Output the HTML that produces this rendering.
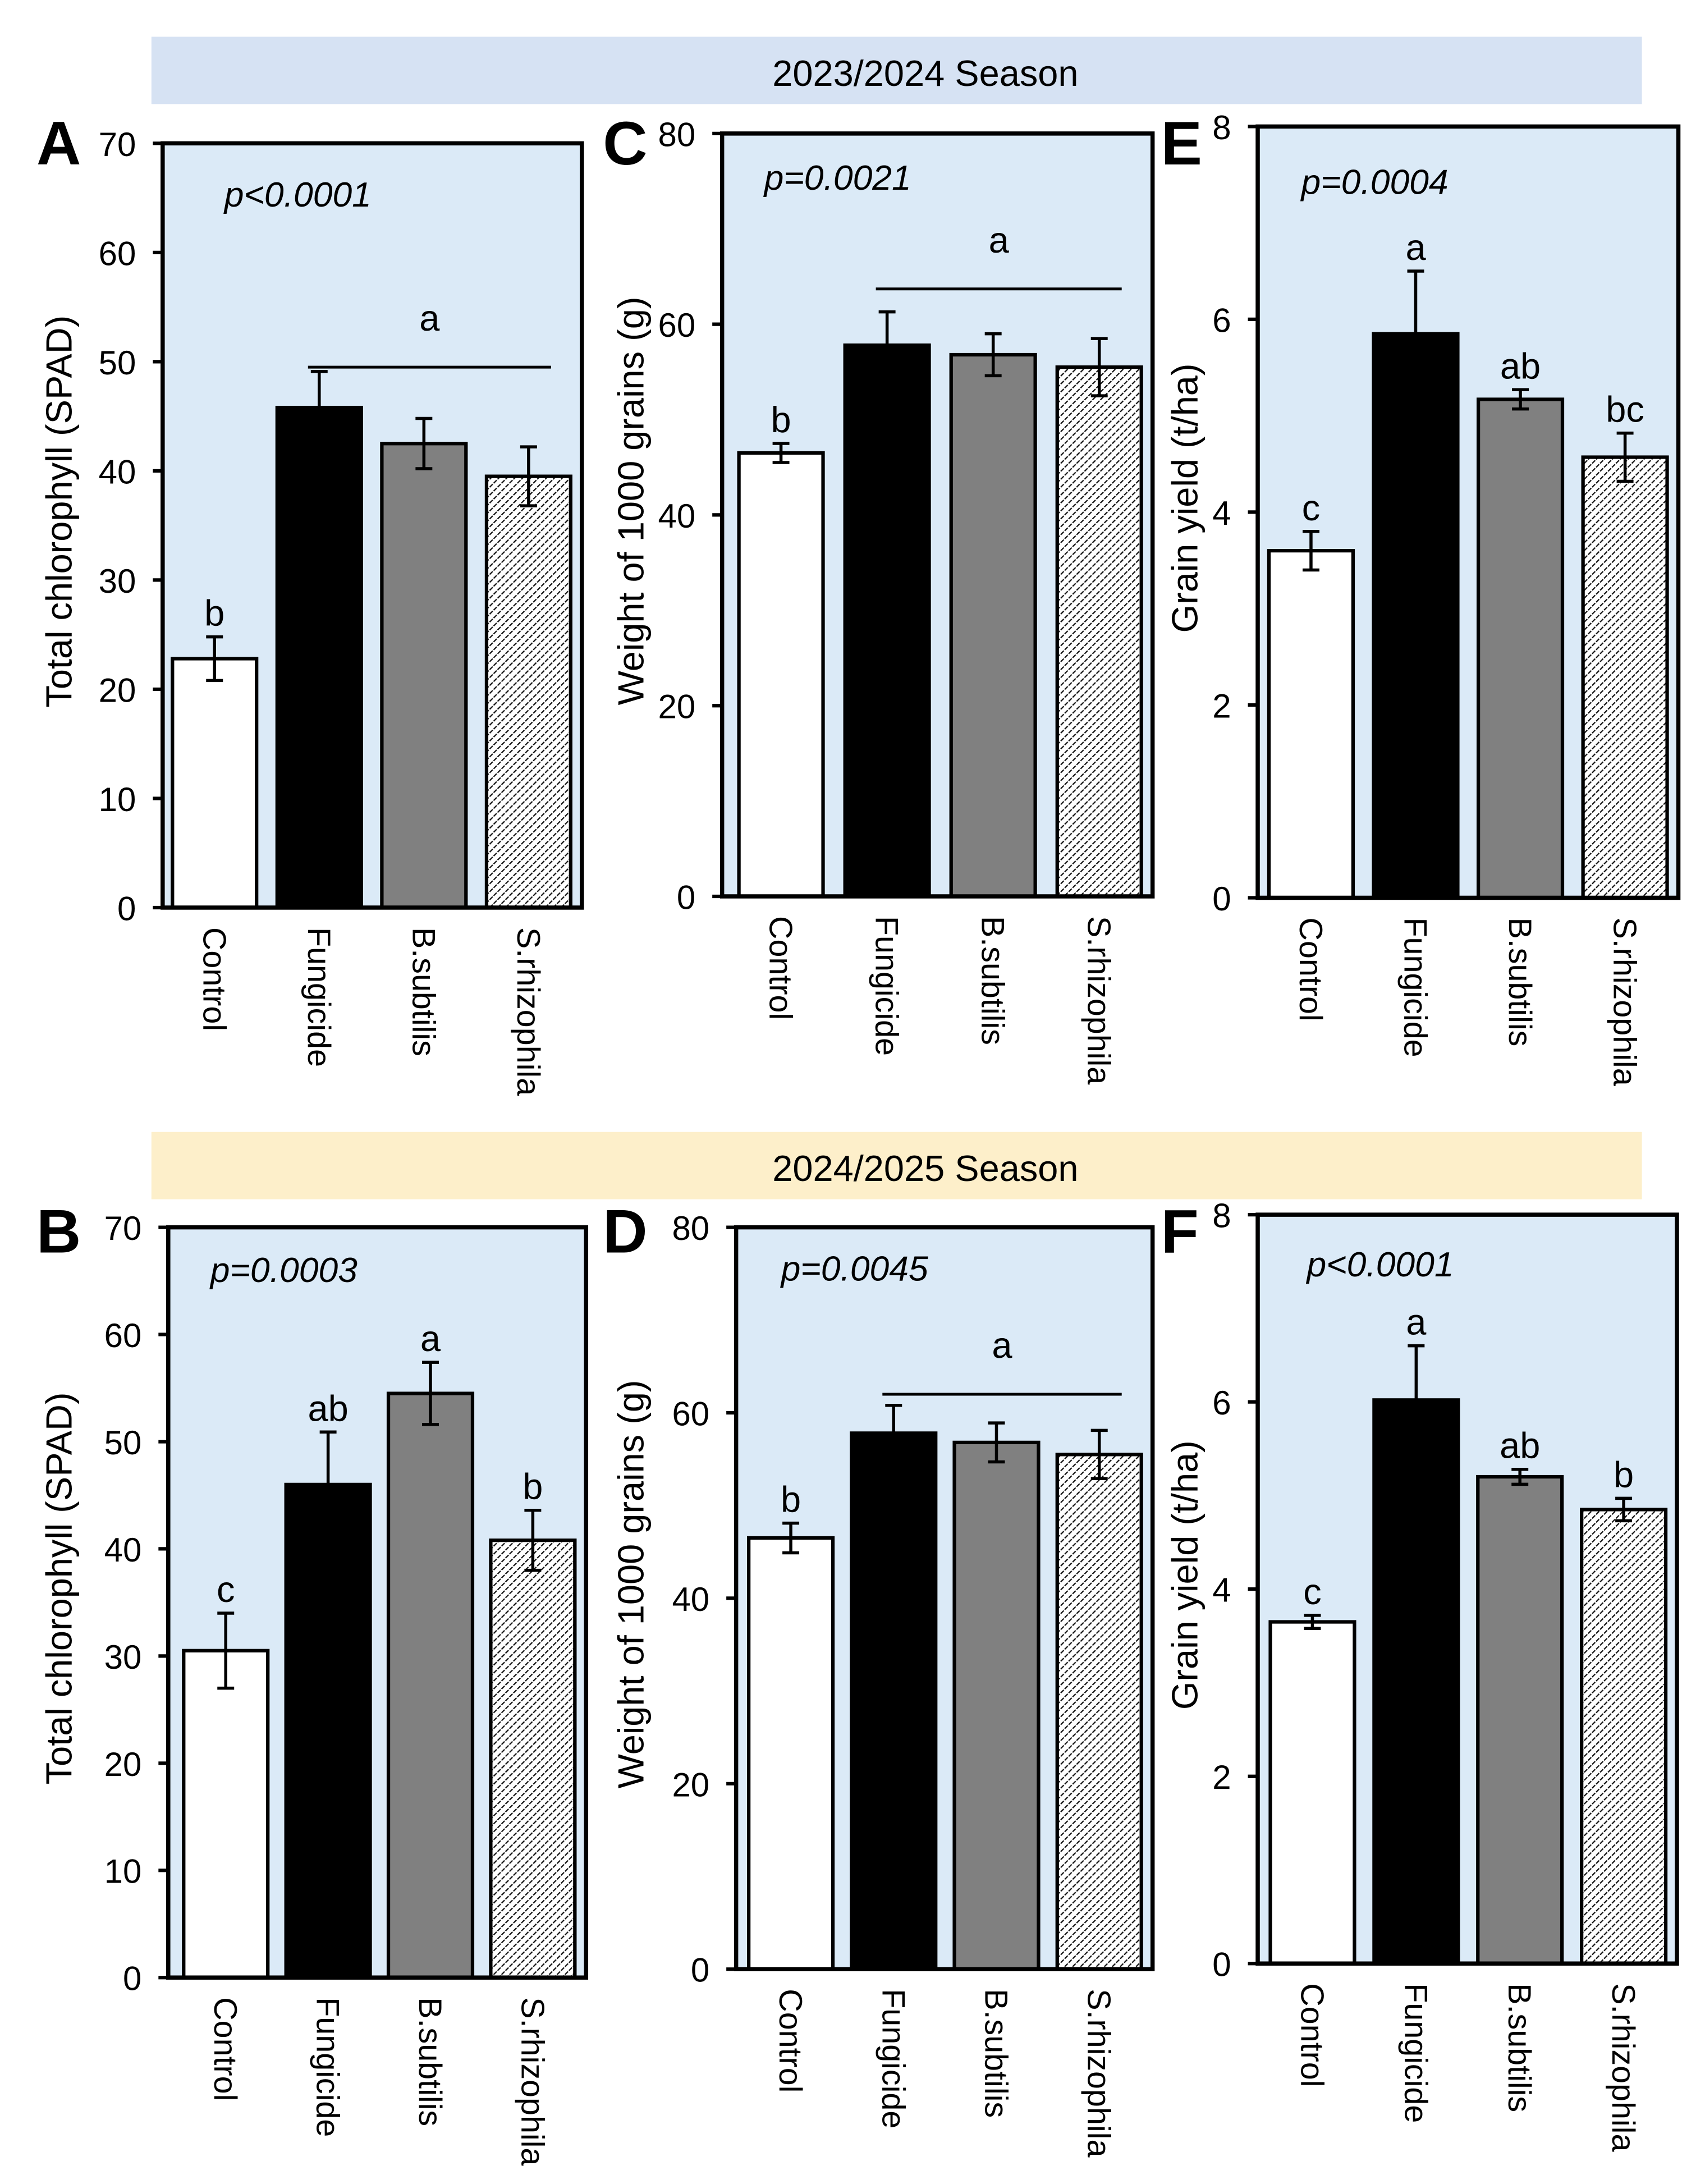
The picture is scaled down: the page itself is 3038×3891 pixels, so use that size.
<!DOCTYPE html>
<html><head><meta charset="utf-8"><style>
html,body{margin:0;padding:0;background:#fff}
svg{display:block}
text{font-family:"Liberation Sans",Arial,sans-serif;fill:#000}
</style></head><body>
<svg id="fig" width="3038" height="3891" viewBox="0 0 1216 1557" xmlns="http://www.w3.org/2000/svg">
<defs>
<pattern id="hatch" patternUnits="userSpaceOnUse" width="4" height="4" patternTransform="rotate(45)">
<rect width="4" height="4" fill="#fff"/><line x1="0" y1="0" x2="0" y2="4" stroke="#111" stroke-width="1.8" stroke-dasharray="2.6 0.9"/>
</pattern>
</defs>
<rect x="108" y="26" width="1063" height="48" fill="#d6e2f3"/>
<text x="660" y="61" font-size="26" text-anchor="middle">2023/2024 Season</text>
<rect x="108" y="807" width="1063" height="48" fill="#fdefca"/>
<text x="660" y="842" font-size="26" text-anchor="middle">2024/2025 Season</text>
<g id="panels"></g>
</svg>
<script>
const categories = ["Control","Fungicide","B.subtilis","S.rhizophila"];
const meansA = [22.8, 45.8, 42.5, 39.5];
const errA = [2.0, 3.3, 2.3, 2.7];
const lettersA = ["b","","",""];
const meansC = [46.5, 57.8, 56.8, 55.5];
const errC = [1.0, 3.5, 2.2, 3.0];
const lettersC = ["b","","",""];
const meansE = [3.6, 5.85, 5.17, 4.57];
const errE = [0.2, 0.65, 0.1, 0.25];
const lettersE = ["c","a","ab","bc"];
const meansB = [30.5, 46.0, 54.5, 40.8];
const errB = [3.5, 4.9, 2.9, 2.8];
const lettersB = ["c","ab","a","b"];
const meansD = [46.5, 57.8, 56.8, 55.5];
const errD = [1.6, 3.0, 2.1, 2.6];
const lettersD = ["b","","",""];
const meansF = [3.65, 6.02, 5.2, 4.85];
const errF = [0.07, 0.58, 0.08, 0.12];
const lettersF = ["c","a","ab","b"];
const ticksChl = [0,10,20,30,40,50,60,70];
const ticksGrain = [0,20,40,60,80];
const ticksYield = [0,2,4,6,8];

const NS="http://www.w3.org/2000/svg";
const root=document.getElementById('panels');
function mk(tag,attrs,parent){const e=document.createElementNS(NS,tag);for(const k in attrs)e.setAttribute(k,attrs[k]);(parent||root).appendChild(e);return e;}
const fills=["#fff","#000","#808080","url(#hatch)"];

const panels=[
 {id:"a",label:"A",x0:116,x1:415,y0:102,y1:647,max:70,ticks:ticksChl,means:meansA,errs:errA,letters:lettersA,ytitle:"Total chlorophyll (SPAD)",tx:42,p:"p<0.0001",px:160,py:147,bar1:123,gL:"a",gY:49.5,gx:[1,3],labA:[26,117]},
 {id:"c",label:"C",x0:515,x1:822,y0:95,y1:639,max:80,ticks:ticksGrain,means:meansC,errs:errC,letters:lettersC,ytitle:"Weight of 1000 grains (g)",tx:450,p:"p=0.0021",px:545,py:135,bar1:527,gL:"a",gY:63.7,gx:[1,3],labA:[430,117]},
 {id:"e",label:"E",x0:897,x1:1197,y0:90,y1:640,max:8,ticks:ticksYield,means:meansE,errs:errE,letters:lettersE,ytitle:"Grain yield (t/ha)",tx:845,p:"p=0.0004",px:928,py:138,bar1:905,labA:[828,117]},
 {id:"b",label:"B",x0:120,x1:418,y0:875,y1:1410,max:70,ticks:ticksChl,means:meansB,errs:errB,letters:lettersB,ytitle:"Total chlorophyll (SPAD)",tx:42,p:"p=0.0003",px:150,py:914,bar1:131,labA:[26,893]},
 {id:"d",label:"D",x0:525,x1:822,y0:875,y1:1404,max:80,ticks:ticksGrain,means:meansD,errs:errD,letters:lettersD,ytitle:"Weight of 1000 grains (g)",tx:450,p:"p=0.0045",px:557,py:913,bar1:534,gL:"a",gY:62,gx:[1,3],labA:[430,893]},
 {id:"f",label:"F",x0:897,x1:1196,y0:866,y1:1400,max:8,ticks:ticksYield,means:meansF,errs:errF,letters:lettersF,ytitle:"Grain yield (t/ha)",tx:845,p:"p<0.0001",px:932,py:910,bar1:906,labA:[828,893]}
];

panels.forEach(P=>{
 const g=mk('g',{});
 
 
 const y=v=>P.y1-(v/P.max)*(P.y1-P.y0);
 const bw=60, step=(P.x1-P.bar1-bw-8)/3;
 const bx=i=>P.bar1+i*step;
 const bg=mk('rect',{x:P.x0,y:P.y0,width:P.x1-P.x0,height:P.y1-P.y0,fill:"#dbeaf7"},g);
 
 
 P.means.forEach((m,i)=>{
  const r=mk('rect',{x:bx(i),y:y(m),width:bw,height:P.y1-y(m),fill:fills[i],stroke:"#000","stroke-width":2.5},g);
  
  
  const cx=bx(i)+bw/2, hi=y(m+P.errs[i]), lo=y(m-P.errs[i]);
  const eb=mk('path',{d:`M${cx} ${hi}V${lo}M${cx-6} ${hi}H${cx+6}M${cx-6} ${lo}H${cx+6}`,stroke:"#000","stroke-width":2.2,fill:"none"},g);
  
  
  if(P.letters[i]){
   const t=mk('text',{x:cx,y:hi-8,"font-size":26,"text-anchor":"middle"},g);
   t.textContent=P.letters[i];
   
   
  }
  const ct=mk('text',{transform:`translate(${cx-8},${P.y1+14}) rotate(90)`,"font-size":23},g);
  ct.textContent=categories[i];
  
  
 });
 if(P.gL){
  const x1=bx(P.gx[0])+22, x2=bx(P.gx[1])+bw-14, ly=y(P.gY);
  const ln=mk('line',{x1:x1,x2:x2,y1:ly,y2:ly,stroke:"#000","stroke-width":2},g);
  
  
  const t=mk('text',{x:(x1+x2)/2,y:ly-26,"font-size":26,"text-anchor":"middle"},g);
  t.textContent=P.gL;
  
  
 }
 const fr=mk('rect',{x:P.x0,y:P.y0,width:P.x1-P.x0,height:P.y1-P.y0,fill:"none",stroke:"#000","stroke-width":3},g);
 
 
 P.ticks.forEach(v=>{
  const tk=mk('line',{x1:P.x0-7,x2:P.x0,y1:y(v),y2:y(v),stroke:"#000","stroke-width":2.5},g);
  
  
  const tl=mk('text',{x:P.x0-19,y:y(v)+9,"font-size":24,"text-anchor":"end"},g);
  tl.textContent=v;
  
  
 });
 const yt=mk('text',{transform:`translate(${P.tx+9},${(P.y0+P.y1)/2-10}) rotate(-90)`,"font-size":26,"text-anchor":"middle"},g);
 yt.textContent=P.ytitle;
 
 
 const pt=mk('text',{x:P.px,y:P.py,"font-size":25,"font-style":"italic"},g);
 pt.textContent=P.p;
 
 
 const pl=mk('text',{x:P.labA[0],y:P.labA[1],"font-size":44,"font-weight":"bold"},g);
 pl.textContent=P.label;
 
 
});
</script>
</body></html>
